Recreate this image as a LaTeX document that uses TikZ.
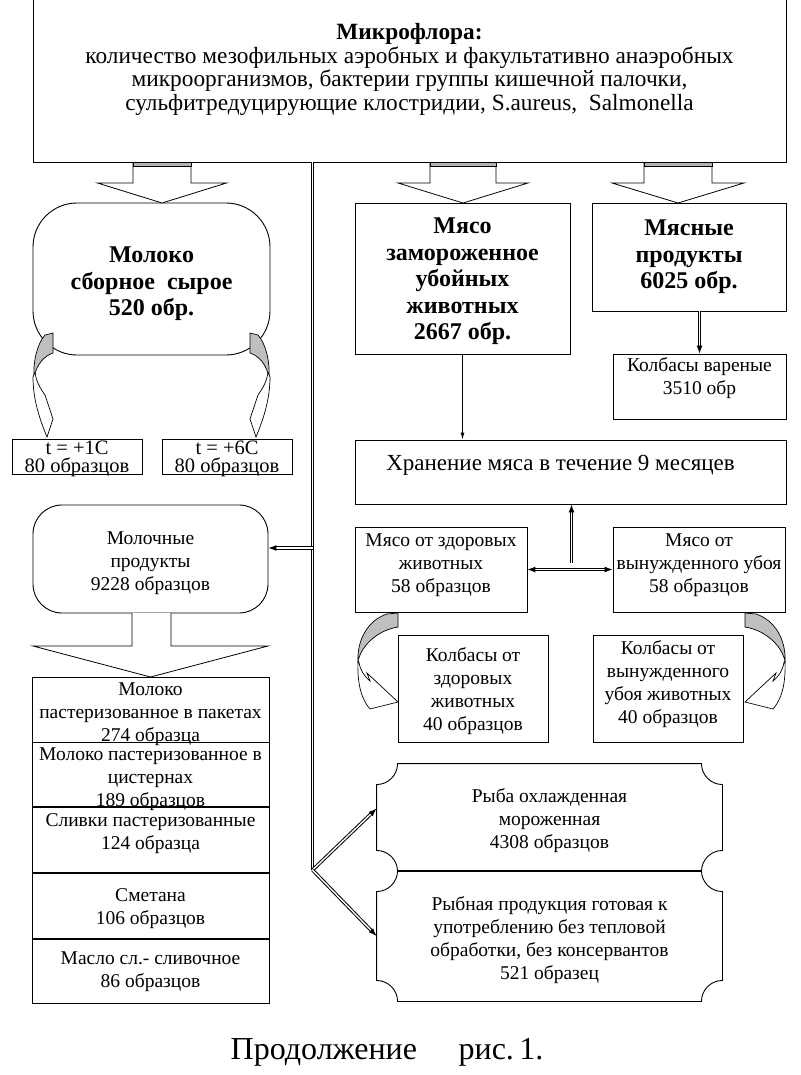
\documentclass[tikz,border=0pt]{standalone}
\usepackage{fontspec}
\setmainfont{Liberation Serif}
\usetikzlibrary{positioning,arrows.meta}

\begin{document}
\begin{tikzpicture}[x=1pt,y=-1pt,line width=0.9pt,
  font=\fontsize{19.5}{23}\selectfont,
  box/.style={draw,inner sep=0pt,align=center},
  txt/.style={inner sep=0pt,align=center},
  boxsize/.style 2 args={minimum width=#1pt,minimum height=#2pt},
  heavy/.style={font=\fontsize{24}{26.5}\selectfont\bfseries},
  tsmall/.style={font=\fontsize{20.5}{18.5}\selectfont},
  dbl/.style={double,double distance=1.4pt,line width=1pt},
  arr/.style={-{Latex[length=8pt,width=6pt]}},
  blockarrow/.style={draw,fill=white,line width=0.8pt},
  back/.style={draw,fill=black!25,line width=0.7pt},
  front/.style={draw,fill=white,line width=0.7pt}]

\useasboundingbox (0,0) rectangle (800,1075);
\fill[white] (0,0) rectangle (800,1075);
\clip (0,0) rectangle (800,1075);

% top
\node[box,boxsize={753}{194}] (top) at (409.5,65) {};
\node[txt,font=\fontsize{23.3}{23.4}\selectfont] (toptext) at ([yshift=-4.5pt]top.center)
  {\textbf{Микрофлора:}\\количество мезофильных аэробных и факультативно анаэробных\\
   микроорганизмов, бактерии группы кишечной палочки,\\
   сульфитредуцирующие клостридии, S.aureus,~ Salmonella};

% milk
\node[box,boxsize={237}{152},rounded corners=44pt] (milk) at (151.5,279) {};
\node[txt,heavy] (milktext) at ([yshift=-5pt]milk.center) {Молоко\\сборное~ сырое\\520 обр.};
\node[box,boxsize={130}{35}] (tone) at (77,456.5) {};
\node[box,boxsize={130}{35}] (tsix) at (227,456.5) {};
\node[txt,tsmall] (tonetext) at ([yshift=-2.5pt]tone.center) {t = +1C\\80 образцов};
\node[txt,tsmall] (tsixtext) at ([yshift=-2.5pt]tsix.center) {t = +6C\\80 образцов};

% meat
\node[box,boxsize={215}{151}] (meat) at (462.5,278.5) {};
\node[txt,heavy] (meattext) at ([yshift=-3pt]meat.center) {Мясо\\замороженное\\убойных\\животных\\2667 обр.};
\node[box,boxsize={194}{108},heavy] (meatprod) at (689,257) {Мясные\\продукты\\6025 обр.};
\node[box,boxsize={173}{65}] (boiled) at (699.5,386.5) {};
\node[txt] (boiledtext) at ([yshift=8pt]boiled.center) {Колбасы вареные\\3510 обр};
\node[box,boxsize={431}{64}] (store) at (570.5,472) {};
\node[txt,font=\fontsize{23}{25}\selectfont] (storetext) at ([xshift=-10pt,yshift=7pt]store.center) {Хранение мяса в течение 9 месяцев};
\node[box,boxsize={172}{85}] (healthy) at (441,569.5) {};
\node[txt] (healthytext) at ([yshift=4pt]healthy.center) {Мясо от здоровых\\животных\\58 образцов};
\node[box,boxsize={172}{85}] (forced) at (699,569.5) {};
\node[txt] (forcedtext) at ([yshift=4pt]forced.center) {Мясо от\\вынужденного убоя\\58 образцов};
\node[box,boxsize={150}{107}] (saush) at (473,688.5) {};
\node[txt] (saushtext) at ([yshift=-3pt]saush.center) {Колбасы от\\здоровых\\животных\\40 образцов};
\node[box,boxsize={150}{107}] (sausf) at (668,688.5) {};
\node[txt] (sausftext) at ([yshift=4pt]sausf.center) {Колбасы от\\вынужденного\\убоя животных\\40 образцов};

% dairy
\node[box,boxsize={235}{108},rounded corners=29pt] (dairy) at (150.5,559) {};
\node[txt] (dairytext) at ([yshift=-4pt]dairy.center) {Молочные\\продукты\\9228 образцов};
\node[box,boxsize={237}{65}] (pack) at (150.5,709.5) {};
\node[box,boxsize={237}{64},below=0pt of pack] (tank) {};
\node[box,boxsize={237}{65},below=0pt of tank] (cream) {};
\node[box,boxsize={237}{65},below=0pt of cream] (smet) {};
\node[box,boxsize={237}{64},below=0pt of smet] (butter) {};
\node[txt] (packtext) at ([yshift=-5pt]pack.center) {Молоко\\пастеризованное в пакетах\\274 образца};
\node[txt] (tanktext) at ([yshift=-4pt]tank.center) {Молоко пастеризованное в\\цистернах\\189 образцов};
\node[txt] (creamtext) at ([yshift=7pt]cream.center) {Сливки пастеризованные\\124 образца};
\node[txt] (smettext) at ([yshift=-2pt]smet.center) {Сметана\\106 образцов};
\node[txt] (buttertext) at (butter.center) {Масло сл.- сливочное\\86 образцов};
\draw[line width=1.8pt] (pack.south west) -- (pack.south east);

% fish
\node[txt,boxsize={345}{107}] (fish) at (549.5,817.5) {};
\node[txt,boxsize={345}{130}] (fishready) at (549.5,936) {};
\node[txt] (fishtext) at ([yshift=-3pt]fish.center) {Рыба охлажденная\\мороженная\\4308 образцов};
\node[txt] (fishreadytext) at ([yshift=-4pt]fishready.center) {Рыбная продукция готовая к\\употреблению без тепловой\\обработки, без консервантов\\521 образец};
\foreach \f in {fish,fishready}
  \draw ([xshift=21pt]\f.north west) -- ([xshift=-21pt]\f.north east)
    arc[start angle=180,end angle=270,radius=21pt] -- ([yshift=21pt]\f.south east)
    arc[start angle=90,end angle=180,radius=21pt] -- ([xshift=21pt]\f.south west)
    arc[start angle=0,end angle=90,radius=21pt] -- ([yshift=-21pt]\f.north west)
    arc[start angle=270,end angle=360,radius=21pt] -- cycle;

\node[txt,font=\fontsize{32}{36}\selectfont] (caption) at (387,1052) {Продолжение\hspace{1.3em}рис.\,1.};

% block arrows
\foreach \cx/\s/\h in {162/29/64.5,463/33/65,678/34/66}{
  \draw[blockarrow] (\cx-\s,162) -- (\cx-\s,183) -- (\cx-\h,183) -- (\cx,203) -- (\cx+\h,183) -- (\cx+\s,183) -- (\cx+\s,162);
  \draw[fill=black!30,line width=0.5pt] (\cx-\s,162) rectangle (\cx+\s,166);
}
\draw[blockarrow] (132,613) -- (132,646) -- (33,646) -- (150.5,677) -- (268,646) -- (171,646) -- (171,613);

% curved arrows
\foreach \sx/\sc in {0/1,303/-1}{
  \begin{scope}[xshift=\sx pt,xscale=\sc]
    \path[back] (45,335) -- (53,333) -- (53,353) .. controls (44,356) and (37,364) .. (34,377)
      .. controls (33,362) and (37,344) .. (45,335) -- cycle;
    \path[front] (33,377) .. controls (33,400) and (40,420) .. (47,437) -- (53,419) -- (45,395)
      .. controls (40,388) and (36,381) .. (35,372) -- cycle;
  \end{scope}
}
\foreach \sx/\sc in {0/1,1143/-1}{
  \begin{scope}[xshift=\sx pt,xscale=\sc]
    \path[back] (387,614) -- (398,613) -- (398,627) .. controls (379,630) and (362,644) .. (358,661)
      .. controls (357,640) and (368,620) .. (387,614) -- cycle;
    \path[front] (358,661) .. controls (357,685) and (362,700) .. (370,709) -- (398,702) -- (367,673)
      -- (370,681) .. controls (364,676) and (360,670) .. (359,662) -- cycle;
  \end{scope}
}

% connectors
\coordinate (fork) at (312.5,870);
\coordinate (dairyin) at ([yshift=11pt]dairy.east);
\coordinate (upfoot) at (571.5,563);
\draw[dbl] (top.south -| fork) -- (fork);
\draw[dbl,arr] (fork |- dairyin) -- (dairyin);
\draw[dbl,arr] (fork) -- ([yshift=9pt]fish.west);
\draw[dbl,arr] (fork) -- (fishready.west);
\draw[-{Latex[length=7pt,width=4pt]}] (meat.south) -- (meat.south |- store.north);
\draw[dbl,arr] (meatprod.south -| boiled.north) -- (boiled.north);
\draw[dbl,arr] (upfoot) -- (upfoot |- store.south);
\draw[dbl,{Latex[length=8pt,width=6pt]}-{Latex[length=8pt,width=6pt]}] (healthy) -- (forced);
\end{tikzpicture}
\end{document}
